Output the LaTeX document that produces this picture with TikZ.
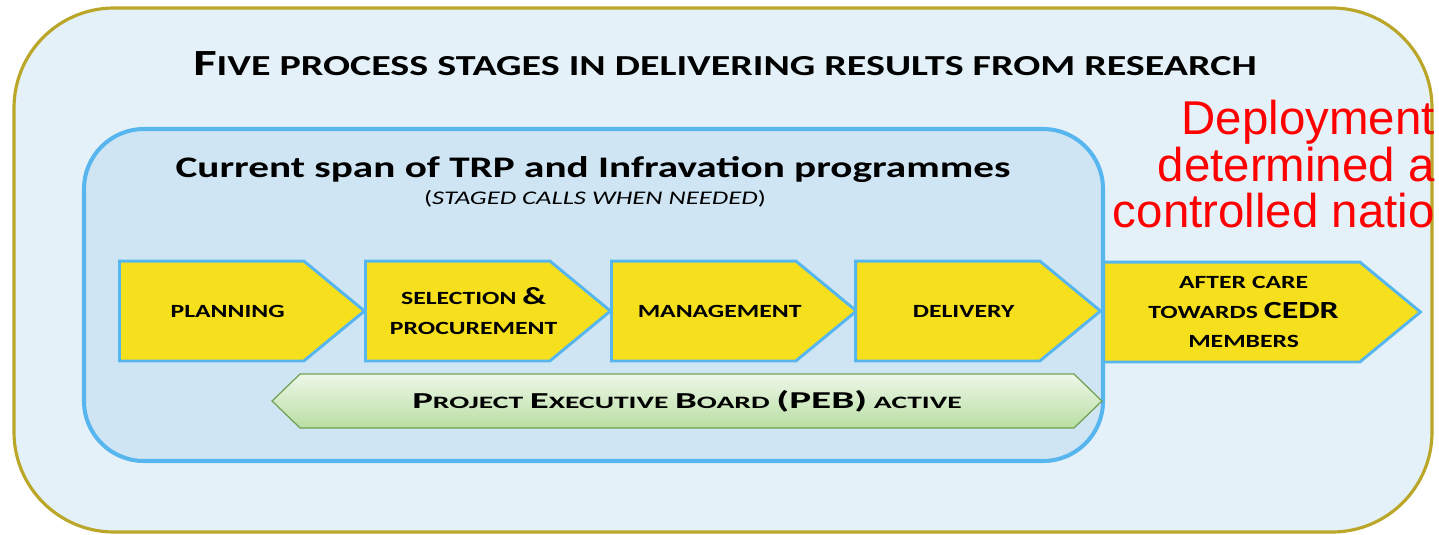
\documentclass[tikz,border=0pt]{standalone}
\usepackage{fontspec}
\setmainfont{Carlito}[FakeStretch=1.38]
\newfontfamily\pebfont{Carlito}[FakeStretch=1.7]
\newfontfamily\arialfont{Liberation Sans}
\usetikzlibrary{shapes.symbols,shapes.arrows}

\definecolor{olive}{RGB}{186,166,40}
\definecolor{paleblue}{RGB}{229,241,249}
\definecolor{spanblue}{RGB}{207,229,243}
\definecolor{edgeblue}{RGB}{88,182,238}
\definecolor{stageyellow}{RGB}{246,223,28}
\definecolor{pebgreen}{RGB}{112,160,82}
\definecolor{peblight}{RGB}{238,247,233}
\definecolor{pebdark}{RGB}{184,222,162}

% big first letter, rest in smaller capitals
\newcommand{\bigsc}[2]{{\fontsize{#1}{#1}\selectfont #2}}

\begin{document}
\begin{tikzpicture}[x=0.02cm,y=-0.02cm,
    stage/.style={shape=signal, signal to=east, signal pointer angle=79,
        draw=edgeblue, line width=1.7pt, fill=stageyellow,
        minimum height=2.0cm, minimum width=4.9cm, inner sep=0pt},
    stagetxt/.style={align=center, xshift=0.32cm, text=black,
        font=\bfseries\fontsize{10.6pt}{17pt}\selectfont},
    peb/.style={shape=double arrow, double arrow head extend=0pt,
        double arrow tip angle=88, draw=pebgreen, line width=0.7pt,
        top color=peblight, bottom color=pebdark,
        minimum height=16.6cm, minimum width=1.08cm, inner sep=0pt,
        font=\pebfont\bfseries, text=black}]
    \useasboundingbox (0,0) rectangle (1439,534);

    % frames
    \draw[olive, line width=1.8pt, fill=paleblue, rounded corners=2.0cm]
        (14,8) rectangle (1432,532);
    \draw[edgeblue, line width=2.3pt, fill=spanblue, rounded corners=1.2cm]
        (84,129) rectangle (1103,461);

    % titles
    \node[font=\bfseries, text=black] (title) at (725,64)
        {\bigsc{21pt}{F}\bigsc{16.5pt}{IVE PROCESS STAGES IN DELIVERING RESULTS FROM RESEARCH}};
    \node[font=\bfseries\fontsize{17pt}{20pt}\selectfont] (span) at (593,170)
        {Current span of TRP and Infravation programmes};
    \node[font=\fontsize{11pt}{12pt}\selectfont] (calls) at (595,199)
        {(\textit{STAGED CALLS WHEN NEEDED})};

    % red note, cut off at the edge
    \node[anchor=north east, align=right, text=red, inner sep=0pt,
          font=\arialfont\fontsize{27pt}{26.5pt}\selectfont] (deploy) at (1435,100)
        {Deployment\\determined a\\controlled natio};

    % process stages
    \node[stage, anchor=west, label={[stagetxt]center:PLANNING}] (plan) at (118,311) {};
    \node[stage, anchor=west, label={[stagetxt]center:SELECTION \bigsc{14pt}{\&}\\PROCUREMENT}]
        (select) at (364,311) {};
    \node[stage, anchor=west, label={[stagetxt]center:MANAGEMENT}] (manage) at (610,311) {};
    \node[stage, anchor=west, label={[stagetxt]center:DELIVERY}] (deliver) at (854,311) {};
    \node[stage, anchor=west, minimum width=6.34cm,
          label={[stagetxt, xshift=-0.08cm]center:AFTER CARE\\TOWARDS \bigsc{14pt}{CEDR}\\MEMBERS}]
        (care) at (1102,312) {};

    % board
    \node[peb] (board) at (687,401)
        {\bigsc{13pt}{P}\bigsc{9.9pt}{ROJECT }\bigsc{13pt}{E}\bigsc{9.9pt}{XECUTIVE }\bigsc{13pt}{B}\bigsc{9.9pt}{OARD }\bigsc{13.8pt}{(PEB)}\bigsc{9.9pt}{ ACTIVE}};
\end{tikzpicture}
\end{document}
